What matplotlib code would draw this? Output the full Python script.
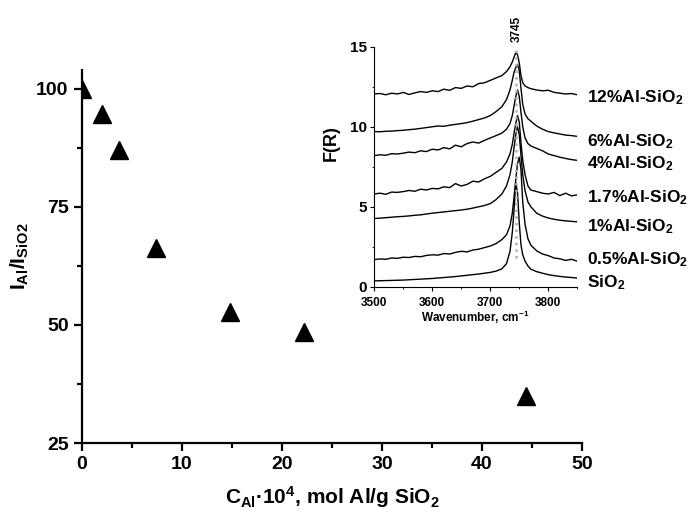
import matplotlib
matplotlib.use("Agg")
import matplotlib.pyplot as plt
from matplotlib.ticker import MultipleLocator

plt.rcParams['font.family'] = ['Liberation Sans', 'DejaVu Sans']
plt.rcParams['font.weight'] = 'bold'
plt.rcParams['axes.labelweight'] = 'bold'
plt.rcParams['mathtext.fontset'] = 'custom'
plt.rcParams['mathtext.rm'] = 'Liberation Sans:bold'
plt.rcParams['mathtext.it'] = 'Liberation Sans:bold'
plt.rcParams['mathtext.bf'] = 'Liberation Sans:bold'
plt.rcParams['mathtext.default'] = 'rm'

# main plot: relative intensity vs Al content
c_al = [0, 2.0, 3.7, 7.4, 14.8, 22.2, 44.4]
ratio = [100, 94.7, 87.1, 66.3, 52.8, 48.5, 35.0]

# inset: DRIFT spectra
wn = [3500, 3510, 3520, 3530, 3540, 3550, 3560, 3570, 3580, 3590, 3600,
      3610, 3620, 3630, 3640, 3650, 3660, 3670, 3680, 3690, 3700,
      3710, 3720, 3728, 3734, 3738, 3741, 3744, 3747, 3750, 3753, 3756,
      3760, 3765, 3770, 3780, 3790, 3800, 3810, 3820, 3830, 3840, 3850]

sio2 = [0.37, 0.38, 0.39, 0.40, 0.41, 0.42, 0.44, 0.46, 0.48, 0.50, 0.52,
        0.55, 0.58, 0.61, 0.64, 0.68, 0.72, 0.76, 0.80, 0.85, 0.90,
        0.98, 1.12, 1.45, 2.2, 3.4, 4.8, 6.5, 5.9, 4.0, 2.6, 2.0,
        1.6, 1.3, 1.1, 0.95, 0.85, 0.76, 0.70, 0.65, 0.61, 0.58, 0.55]
al05 = [1.70, 1.74, 1.72, 1.80, 1.78, 1.85, 1.83, 1.90, 1.88, 1.96, 2.00,
        1.98, 2.08, 2.05, 2.15, 2.22, 2.18, 2.30, 2.35, 2.45, 2.55,
        2.70, 2.95, 3.25, 3.8, 4.6, 5.6, 6.7, 7.7, 8.1, 7.3, 5.3,
        3.9, 3.0, 2.6, 2.25, 2.05, 1.95, 1.80, 1.75, 1.65, 1.72, 1.60]
al1 = [4.27, 4.29, 4.32, 4.35, 4.38, 4.40, 4.43, 4.47, 4.50, 4.55, 4.60,
       4.64, 4.68, 4.72, 4.76, 4.80, 4.85, 4.92, 5.00, 5.08, 5.20,
       5.45, 5.8, 6.3, 7.0, 7.8, 8.7, 9.5, 10.0, 9.5, 8.2, 7.0,
       6.0, 5.3, 5.0, 4.6, 4.42, 4.3, 4.22, 4.16, 4.12, 4.09, 4.06]
al17 = [5.80, 5.85, 5.78, 5.92, 5.90, 5.95, 6.02, 5.97, 6.10, 6.05, 6.15,
        6.12, 6.25, 6.20, 6.45, 6.30, 6.40, 6.60, 6.55, 6.75, 6.90,
        7.15, 7.40, 7.80, 8.30, 8.90, 9.6, 10.2, 10.7, 10.3, 9.0, 7.9,
        7.0, 6.3, 6.05, 5.95, 5.85, 5.80, 5.90, 5.70, 5.85, 5.68, 5.75]
al4 = [8.20, 8.25, 8.22, 8.32, 8.30, 8.35, 8.42, 8.38, 8.50, 8.45, 8.60,
       8.55, 8.70, 8.62, 8.85, 8.75, 8.95, 9.05, 8.98, 9.15, 9.30,
       9.45, 9.60, 9.85, 10.2, 10.7, 11.3, 11.9, 12.3, 11.9, 10.9, 10.0,
       9.3, 8.95, 8.80, 8.65, 8.50, 8.30, 8.20, 8.10, 8.02, 7.95, 7.90]
al6 = [9.70, 9.69, 9.72, 9.73, 9.76, 9.78, 9.82, 9.85, 9.90, 9.95, 10.00,
       10.05, 10.03, 10.10, 10.15, 10.20, 10.26, 10.35, 10.45, 10.55, 10.70,
       10.95, 11.25, 11.7, 12.3, 12.9, 13.4, 13.7, 13.9, 13.5, 12.4, 11.4,
       10.8, 10.5, 10.35, 10.05, 9.85, 9.70, 9.62, 9.55, 9.48, 9.45, 9.40]
al12 = [12.05, 12.08, 12.00, 12.10, 12.05, 12.15, 12.02, 12.12, 12.20, 12.15, 12.25,
        12.20, 12.35, 12.28, 12.45, 12.40, 12.55, 12.50, 12.70, 12.75, 12.90,
        13.05, 13.20, 13.45, 13.75, 14.05, 14.35, 14.65, 14.5, 14.0, 13.2, 12.75,
        12.55, 12.45, 12.38, 12.30, 12.25, 12.28, 12.15, 12.10, 12.05, 12.08, 12.00]

spectra = [sio2, al05, al1, al17, al4, al6, al12]
names = ['SiO$_2$', '0.5%Al-SiO$_2$', '1%Al-SiO$_2$', '1.7%Al-SiO$_2$',
         '4%Al-SiO$_2$', '6%Al-SiO$_2$', '12%Al-SiO$_2$']
name_y = [0.25, 1.7, 3.77, 5.55, 7.7, 9.1, 11.8]

fig = plt.figure(figsize=(6.93, 5.14), dpi=100)

# ---- main axes ----
ax = fig.add_axes([0.118, 0.138, 0.722, 0.726])
ax.plot(c_al, ratio, linestyle='none', marker='^', markersize=13, color='black')
ax.set_xlim(0, 50)
ax.set_ylim(25, 104)
ax.xaxis.set_major_locator(MultipleLocator(10))
ax.xaxis.set_minor_locator(MultipleLocator(5))
ax.set_yticks([25, 50, 75, 100])
ax.yaxis.set_minor_locator(MultipleLocator(12.5))
for s in ['top', 'right']:
    ax.spines[s].set_visible(False)
for s in ['left', 'bottom']:
    ax.spines[s].set_linewidth(1.6)
ax.tick_params(which='major', direction='out', length=6, width=1.6, labelsize=14)
ax.tick_params(which='minor', direction='out', length=3.5, width=1.6)
ax.set_xlabel('C$_{Al}$·10$^4$, mol Al/g SiO$_2$', fontsize=15, labelpad=8)
ax.set_ylabel('I$_{Al}$/I$_{SiO2}$', fontsize=15, labelpad=4)

# ---- inset ----
ins = fig.add_axes([0.540, 0.442, 0.293, 0.467])
for y in spectra:
    ins.plot(wn, y, color='black', linewidth=1.0)
ins.plot([3745, 3745], [1.8, 15], color='#b0b0b0', linestyle=':', linewidth=1.8, zorder=3)
ins.set_xlim(3500, 3850)
ins.set_ylim(0, 15)
ins.set_xticks([3500, 3600, 3700, 3800])
ins.xaxis.set_minor_locator(MultipleLocator(50))
ins.set_yticks([0, 5, 10, 15])
ins.yaxis.set_minor_locator(MultipleLocator(2.5))
for s in ['top', 'right']:
    ins.spines[s].set_visible(False)
ins.tick_params(axis='x', which='major', direction='out', length=3, labelsize=8.5, pad=4)
ins.tick_params(axis='y', which='major', direction='out', length=3, labelsize=11, pad=2)
ins.tick_params(which='minor', direction='out', length=1.5)
ins.set_xlabel('Wavenumber, cm$^{-1}$', fontsize=8.5, labelpad=0)
ins.set_ylabel('F(R)', fontsize=13)
ins.yaxis.set_label_coords(-0.17, 0.6)
ins.text(3745, 15.3, '3745', rotation=90, ha='center', va='bottom', fontsize=8.5, clip_on=False)
for nm, yy in zip(names, name_y):
    ins.text(3867, yy, nm, ha='left', va='center', fontsize=12.5, clip_on=False)

fig.savefig('out.png', dpi=100)
